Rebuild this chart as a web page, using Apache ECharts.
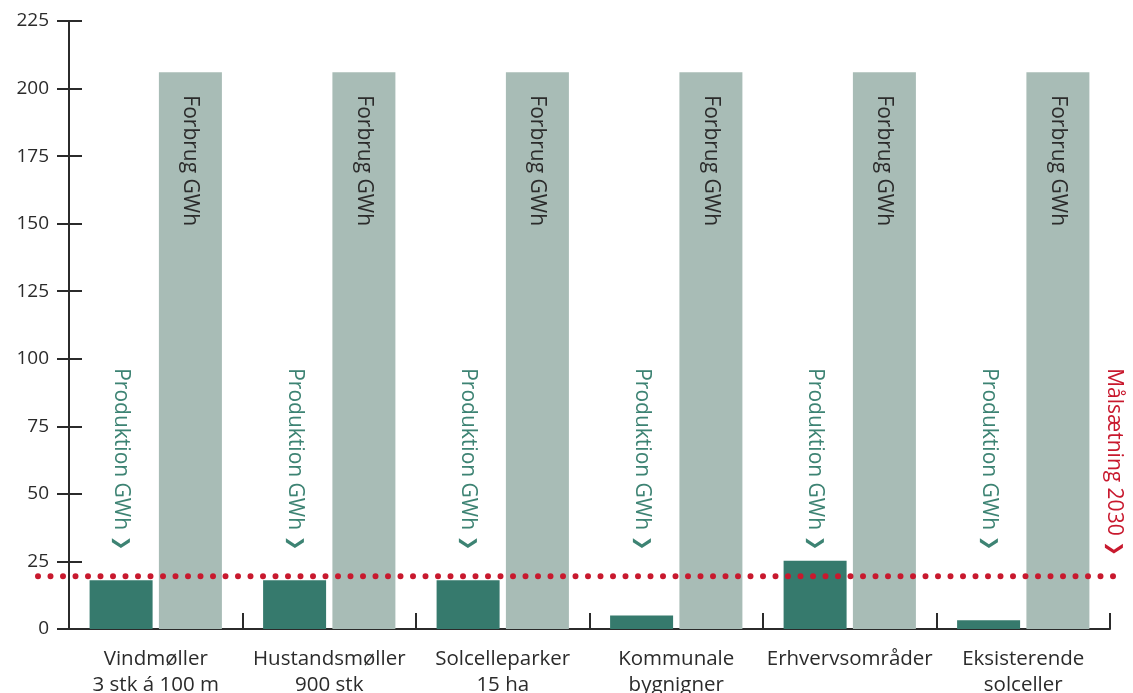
<!DOCTYPE html>
<html>
<head>
<meta charset="utf-8">
<script src="https://cdn.jsdelivr.net/npm/echarts@6/dist/echarts.min.js"></script>
<style>html,body{margin:0;padding:0;background:#fff}#c{width:1133px;height:693px}</style>
</head>
<body>
<div id="c"></div>
<script>
const categories = ['Vindmøller\n3 stk á 100 m', 'Hustandsmøller\n900 stk', 'Solcelleparker\n15 ha', 'Kommunale\nbygnigner', 'Erhvervsområder', 'Eksisterende\nsolceller'];
const produktion = [18, 18, 18, 5, 25.3, 3.2];
const forbrug = [206, 206, 206, 206, 206, 206];
const target2030 = 19.5;
const yTicks = [0, 225, 25]; // min, max, interval

const LABEL_START = 96.5;
const FONT = '"Open Sans", "Noto Sans", sans-serif';
const TEAL = '#367a6d';
const TEAL_TEXT = '#3d8373';
const GREY = '#a8bcb6';
const RED = '#c8192e';
const INK = '#2b2b2b';

const chart = echarts.init(document.getElementById('c'));
const rotLabel = (text, color, pos, dist) => ({
  show: true, position: pos, distance: dist, rotate: -90,
  align: 'left', verticalAlign: 'middle',
  formatter: text, color: color, fontFamily: FONT, fontSize: 21,
  rich: { c: { fontFamily: 'DejaVu Sans', fontSize: 18, fontWeight: 'bold', color: color } }
});

chart.setOption({
  animation: false,
  grid: { left: 69, right: 23, top: 21, bottom: 64, outerBoundsMode: 'none', containLabel: false },
  xAxis: [{
    type: 'category', data: categories,
    axisLine: { lineStyle: { color: INK, width: 2 } },
    axisTick: { show: true, inside: true, length: 16, lineStyle: { color: INK, width: 2 } },
    axisLabel: { color: INK, fontFamily: FONT, fontSize: 20.5, lineHeight: 26, margin: 17, interval: 0 }
  }, {
    type: 'category', data: categories, show: false
  }],
  yAxis: [{
    type: 'value', min: yTicks[0], max: yTicks[1], interval: yTicks[2],
    splitLine: { show: false },
    axisLine: { show: true, lineStyle: { color: INK, width: 2 } },
    axisTick: { show: true, length: 12, lineStyle: { color: INK, width: 2 } },
    axisLabel: { color: INK, fontFamily: FONT, fontSize: 19, margin: 20 }
  }, {
    type: 'value', min: yTicks[0], max: yTicks[1], interval: yTicks[2], position: 'left',
    splitLine: { show: false },
    axisLine: { show: false },
    axisTick: { show: true, inside: true, length: 13, lineStyle: { color: INK, width: 2 } },
    axisLabel: { show: false }
  }],
  series: [{
    name: 'Produktion GWh', type: 'bar', data: produktion, barWidth: 63, barGap: '10%',
    itemStyle: { color: TEAL }, silent: true
  }, {
    name: 'Forbrug GWh', type: 'bar', data: forbrug, barWidth: 63, barGap: '10%',
    itemStyle: { color: GREY }, silent: true,
    label: rotLabel('Forbrug GWh', INK, 'insideTop', 23)
  }, {
    name: 'labels', type: 'bar', xAxisIndex: 1, data: categories.map(() => LABEL_START),
    barWidth: 63, barGap: '10%', itemStyle: { color: 'rgba(0,0,0,0)' }, silent: true, z: 5,
    label: rotLabel('Produktion GWh {c|❯}', TEAL_TEXT, 'insideTop', 0)
  }, {
    name: 'dummy', type: 'bar', xAxisIndex: 1, data: categories.map(() => '-'),
    barWidth: 63, barGap: '10%', silent: true
  }, {
    name: 'Målsætning 2030', type: 'custom', silent: true, z: 10,
    data: [[0, target2030]],
    renderItem: function (params, api) {
      const cs = params.coordSys;
      const y = api.coord([0, api.value(1)])[1];
      const yText = api.coord([0, LABEL_START])[1];
      return {
        type: 'group',
        children: [{
          type: 'line',
          shape: { x1: cs.x - 31, y1: y, x2: cs.x + cs.width + 6, y2: y },
          style: { stroke: RED, lineWidth: 6, lineDash: [0, 12.5], lineCap: 'round' }
        }, {
          type: 'text',
          x: cs.x + cs.width + 4, y: yText, rotation: -Math.PI / 2,
          style: {
            text: 'Målsætning 2030 {c|❯}', fill: RED, align: 'left', verticalAlign: 'middle',
            font: '21px ' + FONT,
            rich: { c: { fontFamily: 'DejaVu Sans', fontSize: 18, fontWeight: 'bold', fill: RED } }
          }
        }]
      };
    }
  }]
});
</script>
</body>
</html>
